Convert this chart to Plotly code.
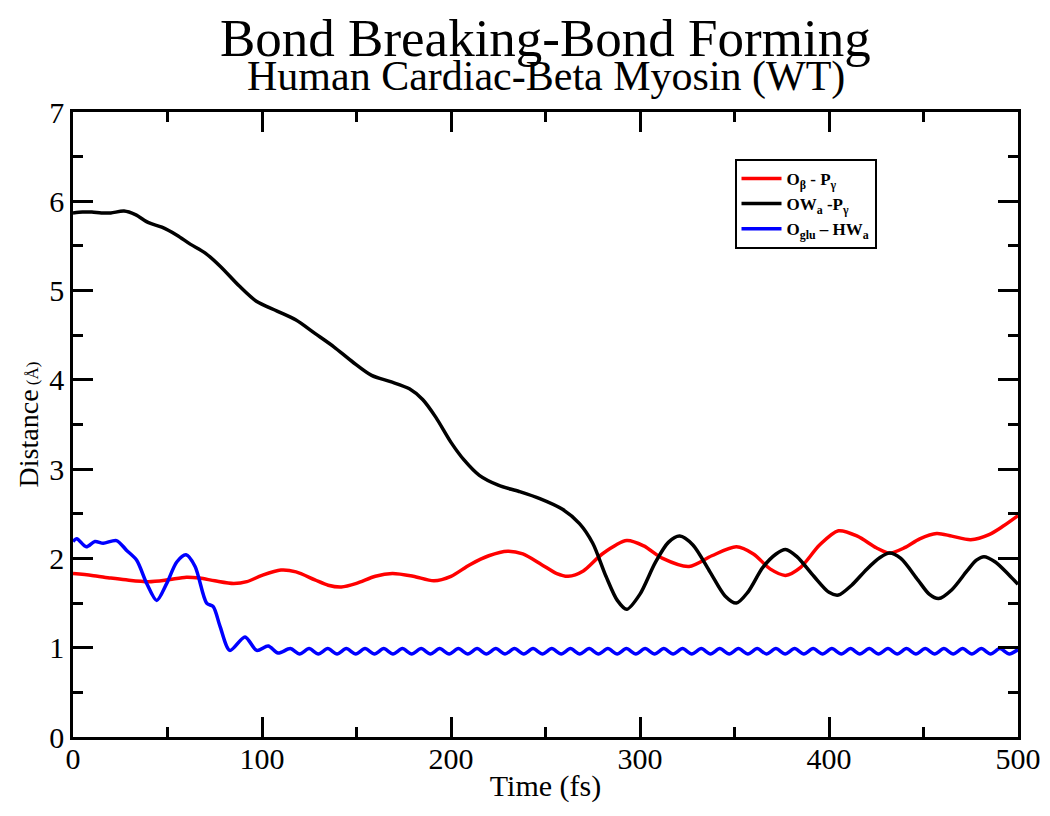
import plotly.graph_objects as go

# ---- data ----
red_t = [0, 10, 20, 28, 40, 50, 60, 67, 75, 85, 92, 100, 110, 118, 128, 135, 142, 150, 160, 169,
         180, 191, 200, 210, 220, 230, 238, 248, 256, 262, 270, 280, 293, 302, 312, 326, 338, 351,
         360, 369, 377, 385, 395, 405, 415, 425, 432, 440, 448, 457, 465, 475, 485, 492, 500]
red_v = [1.83, 1.81, 1.78, 1.76, 1.74, 1.76, 1.79, 1.78, 1.75, 1.72, 1.74, 1.81, 1.87, 1.85, 1.76,
         1.70, 1.68, 1.72, 1.80, 1.83, 1.80, 1.75, 1.80, 1.93, 2.03, 2.08, 2.05, 1.93, 1.83, 1.80,
         1.86, 2.05, 2.20, 2.14, 2.00, 1.91, 2.03, 2.13, 2.05, 1.88, 1.81, 1.90, 2.15, 2.31, 2.25,
         2.12, 2.06, 2.12, 2.22, 2.28, 2.25, 2.21, 2.27, 2.36, 2.48]

black_t = [0, 5, 10, 15, 20, 27, 33, 40, 47, 55, 62, 70, 78, 88, 97, 108, 118, 128, 138, 148, 158,
           168, 178, 185, 192, 200, 207, 215, 225, 236, 247, 259, 268, 275, 282, 288, 293, 300, 308,
           315, 321, 328, 337, 345, 351, 357, 365, 372, 377, 383, 392, 400, 405, 412, 420, 427, 432,
           438, 447, 453, 458, 465, 473, 478, 482, 488, 495, 500]
black_v = [5.87, 5.88, 5.88, 5.87, 5.87, 5.89, 5.85, 5.76, 5.71, 5.62, 5.52, 5.42, 5.27, 5.05, 4.88,
           4.77, 4.67, 4.52, 4.37, 4.20, 4.05, 3.98, 3.90, 3.78, 3.58, 3.30, 3.10, 2.93, 2.82, 2.75,
           2.67, 2.55, 2.39, 2.17, 1.80, 1.53, 1.43, 1.60, 1.95, 2.18, 2.25, 2.15, 1.85, 1.58, 1.50,
           1.62, 1.90, 2.05, 2.10, 2.02, 1.80, 1.62, 1.59, 1.70, 1.88, 2.01, 2.06, 2.00, 1.76, 1.60,
           1.55, 1.65, 1.86, 1.98, 2.02, 1.96, 1.82, 1.71]

blue_t = [0, 2, 7, 11.6, 16, 23, 28.4, 33.7, 39, 44.3, 49.6, 54.9, 59.8, 64.6, 70.7, 74.2, 77.8, 83,
          91, 97.2, 103.3, 108.5,
          115.0, 119.9, 124.9, 129.8, 134.8, 139.7, 144.6, 149.6, 154.5, 159.5, 164.4, 169.3, 174.3,
          179.2, 184.2, 189.1, 194.0, 199.0, 203.9, 208.9, 213.8, 218.7, 223.7, 228.6, 233.6, 238.5,
          243.4, 248.4, 253.3, 258.3, 263.2, 268.1, 273.1, 278.0, 283.0, 287.9, 292.8, 297.8, 302.7,
          307.7, 312.6, 317.5, 322.5, 327.4, 332.4, 337.3, 342.2, 347.2, 352.1, 357.1, 362.0, 366.9,
          371.9, 376.8, 381.8, 386.7, 391.6, 396.6, 401.5, 406.5, 411.4, 416.3, 421.3, 426.2, 431.2,
          436.1, 441.0, 446.0, 450.9, 455.9, 460.8, 465.7, 470.7, 475.6, 480.6, 485.5, 490.4, 495.4,
          500]
blue_v = [2.19, 2.22, 2.13, 2.19, 2.17, 2.20, 2.09, 1.98, 1.72, 1.53, 1.72, 1.96, 2.04, 1.91, 1.50,
          1.46, 1.24, 0.97, 1.12, 0.97, 1.02, 0.94,
          0.99, 0.93, 0.99, 0.93, 0.99, 0.93, 0.99, 0.93, 0.99, 0.93, 0.99, 0.93, 0.99,
          0.93, 0.99, 0.93, 0.99, 0.93, 0.99, 0.93, 0.99, 0.93, 0.99, 0.93, 0.99, 0.93,
          0.99, 0.93, 0.99, 0.93, 0.99, 0.93, 0.99, 0.93, 0.99, 0.93, 0.99, 0.93, 0.99,
          0.93, 0.99, 0.93, 0.99, 0.93, 0.99, 0.93, 0.99, 0.93, 0.99, 0.93, 0.99, 0.93,
          0.99, 0.93, 0.99, 0.93, 0.99, 0.93, 0.99, 0.93, 0.99, 0.93, 0.99, 0.93, 0.99,
          0.93, 0.99, 0.93, 0.99, 0.93, 0.99, 0.93, 0.99, 0.93, 0.99, 0.93, 0.99, 0.93,
          0.98]

names = ["<b>O<sub>β</sub> - P<sub>γ</sub></b>",
         "<b>OW<sub>a</sub> -P<sub>γ</sub></b>",
         "<b>O<sub>glu</sub> – HW<sub>a</sub></b>"]
colors = ["#ff0000", "#000000", "#0000ff"]

x_ticks = [0, 100, 200, 300, 400, 500]
y_ticks = [0, 1, 2, 3, 4, 5, 6, 7]

title_text = "Bond Breaking-Bond Forming"
subtitle_text = "Human Cardiac-Beta Myosin (WT)"

FONT = "Liberation Serif, Times New Roman, serif"

fig = go.Figure()
for t, v, n, c in zip([red_t, black_t, blue_t], [red_v, black_v, blue_v], names, colors):
    fig.add_trace(go.Scatter(x=t, y=v, mode="lines", name=n,
                             line=dict(color=c, width=3.5, shape="spline", smoothing=0.8)))

axis_common = dict(showline=True, linecolor="black", linewidth=2.5, mirror="ticks",
                   ticks="inside", ticklen=20, tickwidth=2.5, tickcolor="black",
                   showgrid=False, zeroline=False, automargin=False,
                   tickfont=dict(family=FONT, size=30, color="black"))

fig.update_xaxes(range=[0, 500], tickvals=x_ticks, ticktext=[str(v) for v in x_ticks],
                 minor=dict(ticks="inside", ticklen=10, tickwidth=2.5, tickcolor="black", dtick=50,
                            showgrid=False),
                 ticklabelstandoff=-7,
                 title=dict(text="Time (fs)", font=dict(family=FONT, size=30, color="black"),
                            standoff=2),
                 **axis_common)
fig.update_yaxes(range=[0, 7], tickvals=y_ticks, ticktext=[str(v) for v in y_ticks],
                 minor=dict(ticks="inside", ticklen=10, tickwidth=2.5, tickcolor="black", dtick=0.5,
                            showgrid=False),
                 title=dict(text="Distance<span style='font-size:17px'> (Å)</span>",
                            font=dict(family=FONT, size=28, color="black"), standoff=3),
                 **axis_common)

fig.add_annotation(text=title_text, xref="paper", yref="paper", x=0.5, y=1.119,
                   xanchor="center", yanchor="middle", showarrow=False,
                   font=dict(family=FONT, size=53, color="black"))
fig.add_annotation(text=subtitle_text, xref="paper", yref="paper", x=0.5, y=1.057,
                   xanchor="center", yanchor="middle", showarrow=False,
                   font=dict(family=FONT, size=42, color="black"))

fig.update_layout(
    width=1050, height=816,
    margin=dict(l=65, r=40, t=104, b=87, autoexpand=False),
    paper_bgcolor="white", plot_bgcolor="white",
    showlegend=True,
    legend=dict(x=0.70, y=0.925, xanchor="left", yanchor="top",
                bordercolor="black", borderwidth=2, bgcolor="white",
                font=dict(family=FONT, size=17, color="black"),
                itemwidth=40, tracegroupgap=4),
)

fig.write_html("out.html")
